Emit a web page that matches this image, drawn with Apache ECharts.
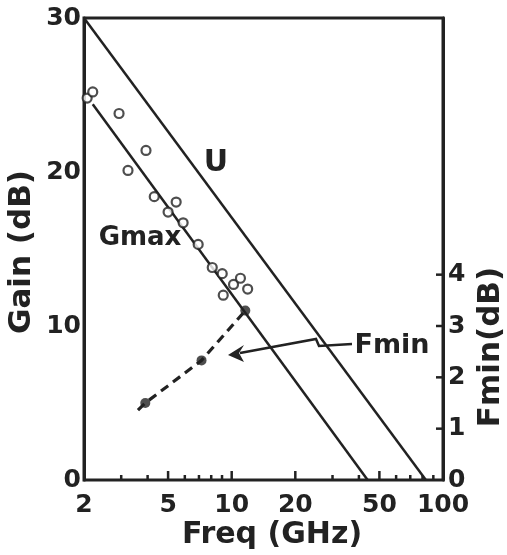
<!DOCTYPE html>
<html><head><meta charset="utf-8">
<script src="https://cdn.jsdelivr.net/npm/echarts@6/dist/echarts.min.js"></script>
<style>html,body{margin:0;padding:0;background:#fff}#c{width:507px;height:555px}</style>
</head><body><div id="c"></div>
<script>
// ---- data ----
const xTickLabels = [2, 5, 10, 20, 50, 100];
const xMinorTicks = [3, 4, 6, 7, 8, 9, 30, 40, 60, 70, 80, 90];
const xMajorTicks = [5, 10, 20, 50];
const gainTicks = [0, 10, 20, 30];
const fminTickLabels = [0, 1, 2, 3, 4];
const fminTicks = [1, 2, 3, 4];
const uFreq = [2, 83];
const uGain = [30, 0];
const gmaxFreq = [2.2, 44];
const gmaxGain = [24.4, 0];
const measFreq = [2.07, 2.20, 2.93, 3.23, 3.93, 4.30, 5.0, 5.46, 5.89, 6.94, 8.09, 9.02, 9.12, 10.2, 11.0, 11.9];
const measGain = [24.8, 25.2, 23.8, 20.1, 21.4, 18.4, 17.4, 18.05, 16.7, 15.3, 13.8, 13.4, 12.0, 12.7, 13.1, 12.4];
const fminLineFreq = [3.6, 3.9, 7.2, 11.6];
const fminLineVals = [1.36, 1.5, 2.33, 3.3];
const fminPtFreq = [3.9, 7.2, 11.6];
const fminPtVals = [1.5, 2.33, 3.3];

// ---- chart ----
const INK = '#222';
const FONT = 'DejaVu Sans';
const zip = (a, b) => a.map((v, i) => [v, b[i]]);
const chart = echarts.init(document.getElementById('c'), null, {renderer: 'canvas'});

function xTickSeries(vals, len) {
  return {
    type: 'custom', xAxisIndex: 0, yAxisIndex: 0, clip: false, silent: true, z: 5,
    data: vals.map(v => [v, 0]),
    renderItem: (params, api) => {
      const p = api.coord([api.value(0), 0]);
      return {type: 'line', shape: {x1: p[0], y1: p[1], x2: p[0], y2: p[1] - len},
              style: {stroke: INK, lineWidth: 2.5}};
    }
  };
}

const option = {
  backgroundColor: '#fff',
  animation: false,
  grid: {left: 84, right: 64, top: 18, bottom: 75, show: true, borderColor: INK, borderWidth: 3},
  xAxis: {
    type: 'log', logBase: 10, min: 2, max: 100,
    axisLine: {show: false}, axisTick: {show: false}, axisLabel: {show: false}, splitLine: {show: false}
  },
  yAxis: [
    {
      type: 'value', min: 0, max: 30, interval: 10,
      axisLine: {show: true, lineStyle: {color: INK, width: 3}},
      axisTick: {show: false}, splitLine: {show: false},
      axisLabel: {margin: 3, color: INK, fontFamily: FONT, fontWeight: 'bold', fontSize: 25,
                  formatter: v => gainTicks.includes(v) ? String(v) : ''}
    },
    {
      type: 'value', position: 'right', min: 0, max: 9, interval: 1,
      axisLine: {show: true, lineStyle: {color: INK, width: 3}},
      axisTick: {show: false},
      splitLine: {show: false},
      axisLabel: {margin: 5, color: INK, fontFamily: FONT, fontWeight: 'bold', fontSize: 25,
                  formatter: v => fminTickLabels.includes(v) ? String(v) : ''}
    }
  ],
  series: [
    {type: 'line', data: zip(uFreq, uGain), symbol: 'none', lineStyle: {color: INK, width: 2.5}, z: 3},
    {type: 'line', data: zip(gmaxFreq, gmaxGain), symbol: 'none', lineStyle: {color: INK, width: 2.5}, z: 3},
    {type: 'scatter', data: zip(measFreq, measGain), symbol: 'circle', symbolSize: 9,
     itemStyle: {color: '#fff', borderColor: INK, borderWidth: 2.2}, z: 4},
    {type: 'line', yAxisIndex: 1, data: zip(fminLineFreq, fminLineVals), symbol: 'none',
     lineStyle: {color: INK, width: 3.2, type: [9, 6]}, z: 3},
    {type: 'scatter', yAxisIndex: 1, data: zip(fminPtFreq, fminPtVals), symbol: 'circle', symbolSize: 10,
     itemStyle: {color: INK}, z: 4},
    xTickSeries(xMinorTicks, 5),
    xTickSeries(xMajorTicks, 9),
    {
      type: 'custom', xAxisIndex: 0, yAxisIndex: 1, clip: false, silent: true, z: 5,
      data: fminTicks.map(v => [100, v]),
      renderItem: (params, api) => {
        const p = api.coord([100, api.value(1)]);
        return {type: 'line', shape: {x1: p[0], y1: p[1], x2: p[0] - 7, y2: p[1]},
                style: {stroke: INK, lineWidth: 2.5}};
      }
    },
    {
      type: 'custom', clip: false, silent: true, z: 5,
      data: xTickLabels.map(v => [v, 0]),
      renderItem: (params, api) => {
        const v = api.value(0);
        const p = api.coord([v, 0]);
        return {type: 'text', x: p[0], y: p[1] + 13,
                style: {text: String(v), fill: INK, font: 'bold 25px "' + FONT + '"',
                        align: 'center', verticalAlign: 'top'}};
      }
    }
  ],
  graphic: [
    {type: 'text', x: 272, y: 535, style: {text: 'Freq (GHz)', fill: INK, font: 'bold 30px "' + FONT + '"', align: 'center', verticalAlign: 'middle'}},
    {type: 'text', x: 22, y: 252, rotation: Math.PI / 2, style: {text: 'Gain (dB)', fill: INK, font: 'bold 31px "' + FONT + '"', align: 'center', verticalAlign: 'middle'}},
    {type: 'text', x: 491, y: 347, rotation: Math.PI / 2, style: {text: 'Fmin(dB)', fill: INK, font: 'bold 31px "' + FONT + '"', align: 'center', verticalAlign: 'middle'}},
    {type: 'text', x: 216, y: 163, style: {text: 'U', fill: INK, font: 'bold 30px "' + FONT + '"', align: 'center', verticalAlign: 'middle'}},
    {type: 'text', x: 140, y: 238, style: {text: 'Gmax', fill: INK, font: 'bold 26px "' + FONT + '"', align: 'center', verticalAlign: 'middle'}},
    {type: 'text', x: 392, y: 346, style: {text: 'Fmin', fill: INK, font: 'bold 27px "' + FONT + '"', align: 'center', verticalAlign: 'middle'}},
    {type: 'polyline', shape: {points: [[352, 344], [319, 346], [316, 339], [240, 353]]}, style: {stroke: INK, lineWidth: 2.5, fill: null}},
    {type: 'polygon', shape: {points: [[228, 355], [244, 345], [239, 353], [244, 362]]}, style: {fill: INK}}
  ]
};
chart.setOption(option);
</script></body></html>
